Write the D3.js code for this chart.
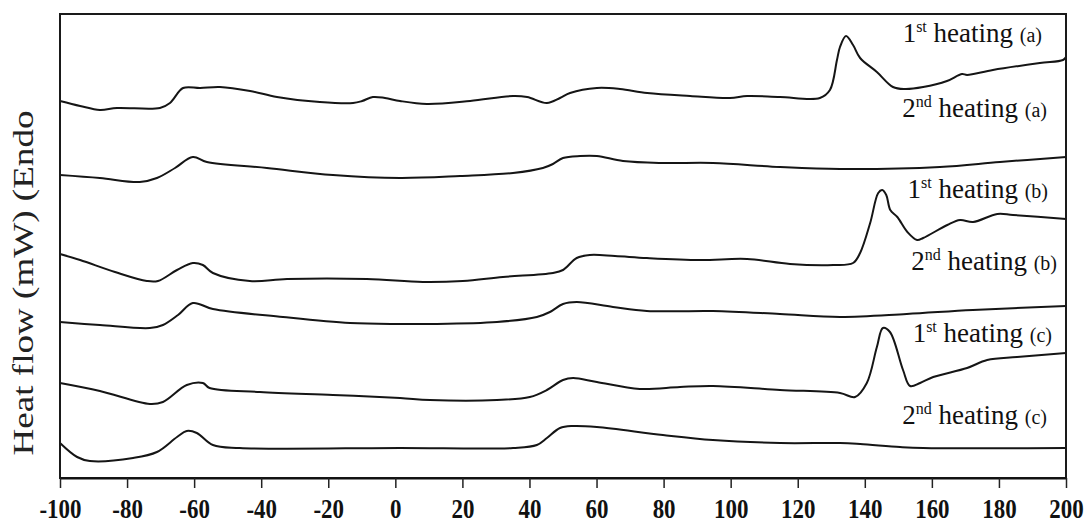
<!DOCTYPE html>
<html>
<head>
<meta charset="utf-8">
<script src="https://cdn.jsdelivr.net/npm/d3@7"></script>
<style>
  body { margin: 0; background: #fff; }
  svg { display: block; }
</style>
</head>
<body>
<svg id="chart" width="1090" height="526"></svg>
<script>
// Temperature ticks (°C)
const xTicks = [-100, -80, -60, -40, -20, 0, 20, 40, 60, 80, 100, 120, 140, 160, 180, 200];

// DSC traces: [temperature °C, heat flow (arbitrary units, stacked with offsets)]
const heating1a = [
  [-100, 94.25], [-94, 93], [-88.1, 92], [-83, 92.5], [-70.2, 92.5], [-67.2, 93.75],
  [-63.3, 97.5], [-58.2, 97.5], [-52.3, 97.75], [-43.3, 96.75], [-35.3, 95.25],
  [-22.5, 94], [-12.6, 93.75], [-9.9, 94.25], [-6.7, 95.25], [-3.1, 95], [1.4, 94.25],
  [9.4, 93.5], [22.3, 94.25], [35.1, 95.5], [39.3, 95.25], [45.2, 93.75], [49.1, 95],
  [52.1, 96.25], [60.1, 97.5], [67, 97.25], [75.1, 96.25], [87.9, 95.5], [99.8, 95],
  [104.9, 95.5], [114.7, 95.25], [126.6, 95], [129.6, 97], [131.7, 104.5], [132.6, 107.75],
  [134.4, 110.5], [136.5, 108.25], [138.6, 105], [143.6, 101.5], [148.4, 97.75],
  [152, 97.25], [157.4, 97.75], [164.5, 99.25], [169, 101], [170.5, 100.75],
  [178.2, 102], [192.2, 103.75], [199.1, 104.5], [200, 105.25]
];
const heating2a = [
  [-100, 75.75], [-88.1, 75], [-76.2, 74], [-71.1, 75], [-65.7, 77.5], [-60.4, 80.25],
  [-56.2, 79], [-38.3, 77.5], [-18.6, 75.75], [1.4, 75], [19.3, 75.5], [35.1, 76.25],
  [44, 77.5], [47, 78.5], [50, 80], [55.1, 80.5], [60.1, 80.5], [67.9, 79.25],
  [79.8, 78.75], [94.7, 78.75], [114.7, 77.75], [132.6, 77.25], [162.4, 77.75],
  [180.3, 79], [200, 80.25]
];
const heating1b = [
  [-100, 56], [-94, 54.5], [-83.6, 51.5], [-74.1, 49.25], [-70.8, 49.25], [-65.1, 52],
  [-60.4, 53.75], [-57.4, 53.25], [-54.4, 51.25], [-43.4, 49.25], [-32.3, 49.75],
  [-8.5, 49.75], [8.2, 49], [20.1, 49.25], [32.1, 50.25], [47, 51.25], [50, 52],
  [54.1, 55], [58, 55.75], [65.5, 55.5], [75, 55], [90.9, 54.5], [104.9, 54.75],
  [117.7, 53.5], [130.6, 53.25], [136.5, 53.75], [138.6, 56.25], [141.6, 63.75],
  [144, 71.25], [145.2, 72], [146.4, 70.75], [147.6, 67], [149.7, 65.25], [152.7, 61.5],
  [155.6, 59.5], [157.4, 60], [164.6, 63.25], [168.4, 64.5], [172.3, 64], [179.5, 66],
  [184.2, 65.75], [200, 64.75]
];
const heating2b = [
  [-100, 39], [-88.1, 38.25], [-73.2, 37.5], [-69.3, 38.25], [-64.8, 40.75], [-60.4, 43.75],
  [-54.4, 42.25], [-33.5, 40.25], [-13.5, 38.75], [1.4, 38.5], [10.3, 38.5], [30.3, 39],
  [42.2, 40.25], [46.1, 41.5], [50, 43.5], [54.1, 44], [64.9, 42.75], [75, 41.75],
  [94.7, 41.75], [114.7, 41], [132.6, 40.25], [152.5, 41], [172.2, 42], [200, 43]
];
const heating1c = [
  [-100, 23.75], [-88.1, 21.75], [-73.2, 18.5], [-69.3, 19], [-62.2, 23.25], [-57.4, 23.75],
  [-55.4, 22.5], [-40.4, 21.5], [-18.6, 20.75], [1.4, 20], [10.3, 19.5], [30.3, 19.5],
  [40.1, 20.25], [45.2, 22], [50, 24.5], [53, 25], [60.1, 24], [72.9, 22.25], [84.9, 22.75],
  [94.7, 23], [114.7, 22], [132.6, 21.25], [137.1, 20.25], [140.6, 23.75], [143.6, 32.75],
  [145.4, 37.5], [147.5, 36.5], [151.4, 27], [153.5, 23], [156.5, 23.75], [160.4, 25.25],
  [170.5, 27.5], [176.5, 29.5], [185.4, 30.25], [200, 31.25]
];
const heating2c = [
  [-100, 8.75], [-94.9, 5.25], [-91.1, 4.25], [-78.2, 5], [-71.1, 6.5], [-65.1, 10.25],
  [-62.2, 11.75], [-59.2, 11.25], [-54.4, 8.25], [-46.4, 7.5], [1.4, 7.5], [35.1, 7.5],
  [42.2, 8.25], [45.2, 10], [49.1, 12.5], [53, 13], [60.1, 12.75], [79.8, 10.75],
  [94.7, 9.5], [114.7, 8.75], [132.6, 8.75], [138.6, 8.5], [150.5, 7.75], [157.4, 7.5],
  [200, 7.5]
];

// Curve labels: ordinal, superscript, sample
const labelOrdinals = ["1", "2", "1", "2", "1", "2"];
const labelSups = ["st", "nd", "st", "nd", "st", "nd"];
const labelSamples = ["(a)", "(a)", "(b)", "(b)", "(c)", "(c)"];
const series = [heating1a, heating2a, heating1b, heating2b, heating1c, heating2c];

// Label anchor points (right end, baseline) in pixels
const labelAnchors = [[1042, 42], [1047, 117], [1048, 198], [1057, 270], [1052, 342], [1047, 424]];

const svg = d3.select("#chart");
const margin = { left: 60, right: 1066, top: 14, bottom: 478 };

const x = d3.scaleLinear().domain([-100, 200]).range([margin.left, margin.right]);
const y = d3.scaleLinear().domain([0, 116]).range([margin.bottom, margin.top]);

const serif = "'Liberation Serif', 'Times New Roman', Times, serif";

// Traces
const line = d3.line()
  .x(d => x(d[0]))
  .y(d => y(d[1]))
  .curve(d3.curveCatmullRom.alpha(0.5));

svg.append("g")
  .selectAll("path")
  .data(series)
  .join("path")
  .attr("d", line)
  .attr("fill", "none")
  .attr("stroke", "#151515")
  .attr("stroke-width", 2)
  .attr("stroke-linejoin", "round");

// Frame
svg.append("rect")
  .attr("x", margin.left)
  .attr("y", margin.top)
  .attr("width", margin.right - margin.left)
  .attr("height", margin.bottom - margin.top)
  .attr("fill", "none")
  .attr("stroke", "#1a1a1a")
  .attr("stroke-width", 2);

// Bottom axis
const xAxis = d3.axisBottom(x)
  .tickValues(xTicks)
  .tickSize(10)
  .tickSizeOuter(0)
  .tickFormat(d3.format("d"));

const gx = svg.append("g")
  .attr("transform", `translate(0,${margin.bottom})`)
  .call(xAxis);

gx.select(".domain").attr("stroke", "#111").attr("stroke-width", 2);
gx.selectAll(".tick line").attr("stroke", "#222").attr("stroke-width", 1.5);
gx.selectAll(".tick text")
  .attr("y", 40)
  .attr("dy", 0)
  .attr("fill", "#111")
  .attr("transform", "scale(0.85,1)")
  .style("font-family", serif)
  .style("font-weight", "bold")
  .style("font-size", "27px")
  .text(d => d < 0 ? "-" + Math.abs(d) : d);

// Y-axis title (glyphs stretched along the reading direction)
svg.append("text")
  .attr("transform", "translate(33,283) rotate(-90)")
  .attr("text-anchor", "middle")
  .attr("textLength", 345)
  .attr("lengthAdjust", "spacingAndGlyphs")
  .style("font-family", serif)
  .style("font-size", "30px")
  .attr("fill", "#222")
  .text("Heat flow (mW) (Endo");

// Curve labels
labelAnchors.forEach((p, i) => {
  const t = svg.append("text")
    .attr("x", p[0])
    .attr("y", p[1])
    .attr("text-anchor", "end")
    .style("font-family", serif)
    .style("font-size", "27px")
    .attr("fill", "#111");
  t.append("tspan").text(labelOrdinals[i]);
  t.append("tspan").attr("dy", -10).style("font-size", "16px").text(labelSups[i]);
  t.append("tspan").attr("dy", 10).text(" heating ");
  t.append("tspan").style("font-size", "20px").text(labelSamples[i]);
});
</script>
</body>
</html>
